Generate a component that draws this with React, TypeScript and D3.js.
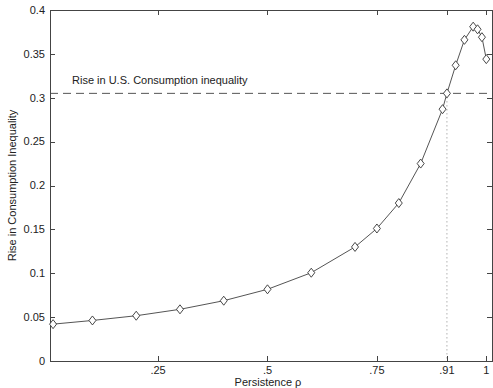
import { useEffect, useRef } from 'react';
import * as d3 from 'd3';

const rho = [0.01, 0.1, 0.2, 0.3, 0.4, 0.5, 0.6, 0.7, 0.75, 0.8, 0.85, 0.9, 0.91, 0.93, 0.95, 0.97, 0.98, 0.99, 1.0];
const rise = [0.042, 0.0462, 0.0516, 0.0589, 0.0687, 0.0817, 0.1006, 0.130, 0.151, 0.180, 0.225, 0.287, 0.305, 0.337, 0.366, 0.381, 0.378, 0.369, 0.344];
const xTicks = [0.25, 0.5, 0.75, 0.91, 1];
const xTickLabels = ['.25', '.5', '.75', '.91', '1'];
const yTicks = [0, 0.05, 0.1, 0.15, 0.2, 0.25, 0.3, 0.35, 0.4];
const usRise = 0.305;
const usRho = 0.91;

const W = 493;
const H = 388;
const margin = { top: 10, right: 1, bottom: 27, left: 50 };
const ink = '#444';
const font = '"Liberation Sans", Arial, sans-serif';

export default function App() {
  const svgRef = useRef<SVGSVGElement>(null);

  useEffect(() => {
    if (!svgRef.current) return;
    const svg = d3.select(svgRef.current);
    svg.selectAll('*').remove();

    const x = d3.scaleLinear().domain([0.003, 1.013]).range([margin.left, W - margin.right]);
    const y = d3.scaleLinear().domain([0, 0.4]).range([H - margin.bottom, margin.top]);
    const [x0, x1] = x.range();
    const [y0, y1] = y.range();
    const tk = 5;

    // reference lines
    svg.append('line')
      .attr('x1', x0).attr('x2', x1)
      .attr('y1', y(usRise)).attr('y2', y(usRise))
      .attr('stroke', '#555').attr('stroke-width', 1)
      .attr('stroke-dasharray', '8,5');
    svg.append('line')
      .attr('x1', x(usRho)).attr('x2', x(usRho))
      .attr('y1', y(usRise)).attr('y2', y0)
      .attr('stroke', '#888').attr('stroke-width', 1)
      .attr('stroke-dasharray', '1,3');
    svg.append('text')
      .attr('x', x0 + 22).attr('y', y(usRise) - 9)
      .attr('font-size', 11).attr('font-family', font).attr('fill', '#222')
      .text('Rise in U.S. Consumption inequality');

    // frame
    svg.append('rect')
      .attr('x', x0 + 0.5).attr('y', y1 + 0.5)
      .attr('width', x1 - x0).attr('height', y0 - y1)
      .attr('fill', 'none').attr('stroke', ink).attr('stroke-width', 1);

    // ticks (inward, all four sides)
    const g = svg.append('g').attr('stroke', ink).attr('stroke-width', 1);
    xTicks.forEach(t => {
      const px = Math.round(x(t)) + 0.5;
      g.append('line').attr('x1', px).attr('x2', px).attr('y1', y0).attr('y2', y0 - tk);
      g.append('line').attr('x1', px).attr('x2', px).attr('y1', y1).attr('y2', y1 + tk);
    });
    yTicks.forEach(t => {
      const py = Math.round(y(t)) + 0.5;
      g.append('line').attr('x1', x0).attr('x2', x0 + tk).attr('y1', py).attr('y2', py);
      g.append('line').attr('x1', x1).attr('x2', x1 - tk).attr('y1', py).attr('y2', py);
    });

    svg.append('g').selectAll('text').data(xTicks).join('text')
      .attr('x', d => x(d)).attr('y', y0 + 13)
      .attr('text-anchor', 'middle')
      .attr('font-size', 11).attr('font-family', font).attr('fill', '#222')
      .text((_, i) => xTickLabels[i]);
    svg.append('g').selectAll('text').data(yTicks).join('text')
      .attr('x', x0 - 5).attr('y', d => y(d)).attr('dy', '0.35em')
      .attr('text-anchor', 'end')
      .attr('font-size', 11).attr('font-family', font).attr('fill', '#222')
      .text(d => String(d));

    // axis titles
    svg.append('text')
      .attr('x', (x0 + x1) / 2 - 3).attr('y', H - 2)
      .attr('text-anchor', 'middle')
      .attr('font-size', 11).attr('font-family', font).attr('fill', '#222')
      .text('Persistence ρ');
    svg.append('text')
      .attr('transform', `translate(16,${(y0 + y1) / 2}) rotate(-90)`)
      .attr('text-anchor', 'middle')
      .attr('font-size', 11).attr('font-family', font).attr('fill', '#222')
      .text('Rise in Consumption Inequality');

    // series
    const pts = rho.map((r, i) => [x(r), y(rise[i])] as [number, number]);
    svg.append('path')
      .attr('d', d3.line()(pts))
      .attr('fill', 'none').attr('stroke', '#555').attr('stroke-width', 1);
    svg.append('g').selectAll('path').data(pts).join('path')
      .attr('d', d => `M${d[0]},${d[1] - 4.5}L${d[0] + 3.5},${d[1]}L${d[0]},${d[1] + 4.5}L${d[0] - 3.5},${d[1]}Z`)
      .attr('fill', 'white').attr('stroke', '#333').attr('stroke-width', 0.9);
  }, []);

  return (
    <svg
      ref={svgRef}
      width={W}
      height={H}
      style={{ position: 'absolute', left: 0, top: 0, background: 'white' }}
    />
  );
}
